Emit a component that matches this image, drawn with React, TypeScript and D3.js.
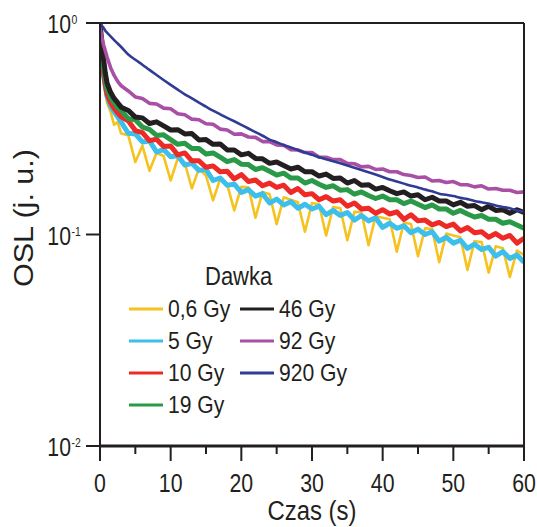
import React from "react";
import * as d3 from "d3";

const width = 537;
const height = 527;
const margin = { top: 23, right: 13, bottom: 81, left: 100 };
const ink = "#231f20";
const font = "'Liberation Sans', Arial, sans-serif";

// time grid (s)
const times = [
  0, 0.25, 0.5, 0.75, 1, 1.5, 2, 2.5, 3,
  4, 5, 6, 7, 8, 9, 10, 11, 12, 13, 14, 15, 16, 17, 18, 19, 20,
  21, 22, 23, 24, 25, 26, 27, 28, 29, 30, 31, 32, 33, 34, 35, 36, 37, 38, 39, 40,
  41, 42, 43, 44, 45, 46, 47, 48, 49, 50, 51, 52, 53, 54, 55, 56, 57, 58, 59, 60,
];

// OSL, normalised
const osl06 = [
  0.88, 0.68, 0.54, 0.47, 0.42, 0.38, 0.33, 0.34, 0.3,
  0.295, 0.22, 0.263, 0.2, 0.243, 0.235, 0.18, 0.229, 0.218, 0.165, 0.205, 0.19, 0.145, 0.183, 0.172, 0.13, 0.168,
  0.167, 0.12, 0.159, 0.155, 0.112, 0.15, 0.146, 0.142, 0.103, 0.141, 0.139, 0.099, 0.135, 0.133, 0.094, 0.128, 0.127, 0.089, 0.122, 0.12,
  0.118, 0.083, 0.114, 0.112, 0.079, 0.107, 0.106, 0.074, 0.101, 0.099, 0.097, 0.068, 0.093, 0.092, 0.066, 0.088, 0.086, 0.063, 0.084, 0.08,
];
const osl5 = [
  0.9, 0.7, 0.57, 0.5, 0.45, 0.405, 0.38, 0.36, 0.34,
  0.301, 0.299, 0.274, 0.277, 0.246, 0.252, 0.233, 0.236, 0.213, 0.217, 0.201, 0.203, 0.18, 0.185, 0.171, 0.173, 0.158,
  0.163, 0.152, 0.156, 0.141, 0.147, 0.138, 0.143, 0.133, 0.139, 0.132, 0.136, 0.124, 0.13, 0.123, 0.127, 0.117, 0.123, 0.116, 0.12, 0.108,
  0.113, 0.107, 0.11, 0.102, 0.106, 0.1, 0.103, 0.093, 0.097, 0.091, 0.094, 0.086, 0.09, 0.085, 0.087, 0.079, 0.083, 0.077, 0.08, 0.074,
];
const osl10 = [
  0.93, 0.72, 0.58, 0.51, 0.46, 0.42, 0.395, 0.375, 0.36,
  0.345, 0.31, 0.303, 0.278, 0.282, 0.261, 0.262, 0.238, 0.243, 0.223, 0.223, 0.208, 0.211, 0.198, 0.199, 0.183, 0.192,
  0.178, 0.181, 0.17, 0.175, 0.167, 0.171, 0.158, 0.165, 0.154, 0.156, 0.146, 0.151, 0.144, 0.146, 0.136, 0.141, 0.132, 0.133, 0.126, 0.131,
  0.125, 0.128, 0.118, 0.124, 0.116, 0.117, 0.111, 0.114, 0.109, 0.112, 0.104, 0.108, 0.102, 0.103, 0.097, 0.101, 0.096, 0.099, 0.091, 0.096,
];
const osl19 = [
  0.95, 0.76, 0.62, 0.54, 0.49, 0.445, 0.42, 0.4, 0.385,
  0.353, 0.349, 0.322, 0.314, 0.294, 0.296, 0.281, 0.267, 0.27, 0.255, 0.255, 0.24, 0.243, 0.232, 0.221, 0.226, 0.215,
  0.214, 0.203, 0.207, 0.199, 0.191, 0.195, 0.185, 0.185, 0.175, 0.18, 0.173, 0.167, 0.17, 0.162, 0.163, 0.155, 0.159, 0.153, 0.148, 0.152,
  0.146, 0.146, 0.14, 0.144, 0.139, 0.134, 0.138, 0.132, 0.132, 0.126, 0.13, 0.125, 0.121, 0.123, 0.118, 0.118, 0.113, 0.115, 0.111, 0.107,
];
const osl46 = [
  1.0, 0.82, 0.68, 0.58, 0.52, 0.47, 0.44, 0.42, 0.4,
  0.386, 0.359, 0.356, 0.335, 0.341, 0.326, 0.312, 0.313, 0.299, 0.3, 0.28, 0.281, 0.267, 0.268, 0.251, 0.251, 0.238,
  0.242, 0.229, 0.228, 0.217, 0.22, 0.212, 0.204, 0.208, 0.198, 0.198, 0.189, 0.193, 0.184, 0.185, 0.175, 0.18, 0.171, 0.172, 0.164, 0.167,
  0.161, 0.156, 0.159, 0.152, 0.154, 0.146, 0.15, 0.144, 0.144, 0.138, 0.142, 0.136, 0.137, 0.131, 0.136, 0.13, 0.131, 0.126, 0.131, 0.127,
];
const osl92 = [
  0.95, 0.86, 0.79, 0.74, 0.69, 0.615, 0.565, 0.53, 0.505,
  0.477, 0.447, 0.439, 0.417, 0.414, 0.396, 0.393, 0.372, 0.368, 0.351, 0.349, 0.334, 0.332, 0.315, 0.312, 0.298, 0.299,
  0.289, 0.288, 0.275, 0.275, 0.265, 0.264, 0.252, 0.251, 0.244, 0.244, 0.232, 0.232, 0.226, 0.226, 0.217, 0.216, 0.209, 0.21, 0.203, 0.204,
  0.198, 0.198, 0.192, 0.19, 0.186, 0.187, 0.179, 0.18, 0.176, 0.178, 0.172, 0.172, 0.168, 0.17, 0.164, 0.165, 0.162, 0.162, 0.158, 0.159,
];
const osl920 = [
  1.0, 0.97, 0.95, 0.92, 0.9, 0.865, 0.83, 0.8, 0.77,
  0.71, 0.67, 0.635, 0.6, 0.568, 0.538, 0.51, 0.484, 0.46, 0.44, 0.42, 0.402, 0.385, 0.37, 0.356, 0.343, 0.33,
  0.317, 0.305, 0.293, 0.281, 0.273, 0.265, 0.258, 0.251, 0.244, 0.238, 0.232, 0.227, 0.222, 0.217, 0.212, 0.207, 0.202, 0.197, 0.192, 0.187,
  0.182, 0.178, 0.174, 0.17, 0.167, 0.163, 0.16, 0.156, 0.154, 0.152, 0.149, 0.147, 0.144, 0.142, 0.14, 0.137, 0.135, 0.133, 0.13, 0.128,
];

const doses = ["0,6 Gy", "5 Gy", "10 Gy", "19 Gy", "46 Gy", "92 Gy", "920 Gy"];
const colors = ["#f5c21e", "#3dbfec", "#ed2a26", "#2b9a48", "#231f20", "#a950a6", "#2f3b94"];
const widths = [2.6, 5, 5, 5, 5, 3.6, 2.6];
const series = [osl06, osl5, osl10, osl19, osl46, osl92, osl920];

const xTicks = [0, 10, 20, 30, 40, 50, 60];
const xMinorTicks = [5, 15, 25, 35, 45, 55];
const yTicks = [1, 0.1, 0.01];
const yTickExp = ["0", "-1", "-2"];

const App = () => {
  const x = d3.scaleLinear().domain([0, 60]).range([margin.left, width - margin.right]);
  const y = d3.scaleLog().domain([0.01, 1]).range([height - margin.bottom, margin.top]);

  const line = d3
    .line<number>()
    .x((_, i) => x(times[i]))
    .y((d) => y(d));
  const smoothLine = d3
    .line<number>()
    .x((_, i) => x(times[i]))
    .y((d) => y(d))
    .curve(d3.curveMonotoneX);

  const x0 = x(0);
  const x1 = x(60);
  const yTop = y(1);
  const yBot = y(0.01);

  return (
    <svg width={width} height={height} style={{ position: "absolute", left: 0, top: 0 }} fontFamily={font}>
      <rect width={width} height={height} fill="#fff" />
      <defs>
        <clipPath id="plot">
          <rect x={x0} y={yTop - 3} width={x1 - x0} height={yBot - yTop + 3} />
        </clipPath>
      </defs>

      {/* curves, low doses drawn first */}
      <g clipPath="url(#plot)">
        {series.map((vals, i) => (
          <path
            key={doses[i]}
            d={(i === 6 ? smoothLine : line)(vals) || ""}
            fill="none"
            stroke={colors[i]}
            strokeWidth={widths[i]}
            strokeLinejoin="round"
          />
        ))}
      </g>

      {/* frame */}
      <line x1={x0} x2={x1} y1={yTop} y2={yTop} stroke={ink} strokeWidth={2} />
      <line x1={x1} x2={x1} y1={yTop} y2={yBot} stroke={ink} strokeWidth={2} />
      <line x1={x0} x2={x0} y1={yTop} y2={yBot} stroke={ink} strokeWidth={2} />
      <line x1={x0 - 1} x2={x1 + 1} y1={yBot} y2={yBot} stroke={ink} strokeWidth={3} />

      {/* x axis */}
      {xTicks.map((t) => (
        <g key={t} transform={`translate(${x(t)},0)`}>
          <line y1={yBot} y2={yBot + 15} stroke={ink} strokeWidth={2} />
          <text transform={`translate(0,${yBot + 46}) scale(0.82,1)`} textAnchor="middle" fontSize={26} fill={ink}>
            {t}
          </text>
        </g>
      ))}
      {xMinorTicks.map((t) => (
        <line key={t} x1={x(t)} x2={x(t)} y1={yBot} y2={yBot + 8} stroke={ink} strokeWidth={2} />
      ))}
      <text
        x={(x0 + x1) / 2}
        y={520}
        textAnchor="middle"
        fontSize={27}
        fill={ink}
        textLength={89}
        lengthAdjust="spacingAndGlyphs"
      >
        Czas (s)
      </text>

      {/* y axis */}
      {yTicks.map((v, i) => (
        <g key={v} transform={`translate(0,${y(v)})`}>
          <line x1={x0 - 14} x2={x0} stroke={ink} strokeWidth={2} />
          <text transform="translate(71,10) scale(0.85,1)" textAnchor="end" fontSize={25} fill={ink}>
            10
          </text>
          <text transform="translate(71.5,1) scale(0.8,1)" fontSize={13} fill={ink}>
            {yTickExp[i]}
          </text>
        </g>
      ))}
      <text
        transform={`translate(33,218) rotate(-90)`}
        textAnchor="middle"
        fontSize={27}
        fill={ink}
        textLength={138}
        lengthAdjust="spacingAndGlyphs"
      >
        OSL (j. u.)
      </text>

      {/* legend */}
      <text transform="translate(205,285) scale(0.88,1)" fontSize={25} fill={ink}>
        Dawka
      </text>
      {doses.map((d, i) => {
        const col = i < 4 ? 0 : 1;
        const row = i < 4 ? i : i - 4;
        const lx = col === 0 ? 129 : 240;
        const by = 317 + row * 32;
        return (
          <g key={d}>
            <line x1={lx} x2={lx + 34} y1={by - 8} y2={by - 8} stroke={colors[i]} strokeWidth={3} />
            <text transform={`translate(${lx + 39},${by}) scale(0.88,1)`} fontSize={24} fill={ink}>
              {d}
            </text>
          </g>
        );
      })}
    </svg>
  );
};

export default App;
